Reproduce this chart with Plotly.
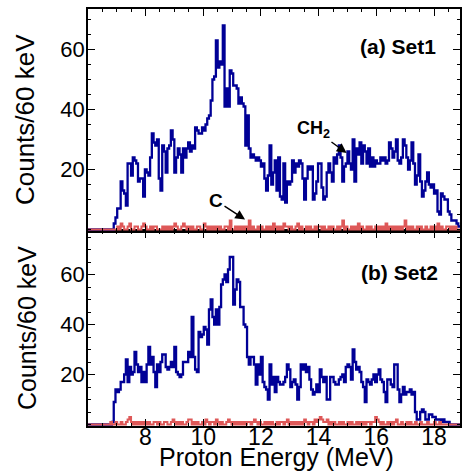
import numpy as np
import plotly.graph_objects as go

# ---------------- data (counts per 60 keV bin, bins start at 6.0 MeV) ----------------
E_START = 6.0
BIN_WIDTH = 0.06  # MeV

set1_ch2 = [
    0, 0, 0, 0, 0, 0, 0, 0, 0, 0, 0, 0, 0, 0, 0,
    2, 4, 7, 7, 16, 13, 12, 8, 22, 22, 18, 24, 23, 22, 16,
    17, 17, 11, 20, 19, 18, 24, 32, 29, 28, 30, 17, 13, 28, 26,
    19, 27, 28, 33, 30, 19, 24, 27, 25, 19, 27, 24, 27, 29, 26,
    28, 27, 34, 33, 32, 32, 34, 33, 35, 37, 38, 43, 50, 51, 63,
    54, 56, 55, 68, 41, 47, 41, 53, 52, 48, 48, 47, 42, 44, 42,
    41, 28, 38, 27, 24, 25, 24, 23, 24, 23, 21, 22, 17, 13, 18,
    28, 15, 19, 23, 13, 24, 11, 10, 22, 9, 16, 15, 16, 23, 19,
    22, 21, 23, 22, 17, 10, 17, 21, 20, 21, 10, 12, 16, 22, 22,
    14, 10, 11, 19, 22, 19, 16, 24, 22, 25, 28, 24, 16, 21, 22,
    26, 22, 20, 30, 16, 27, 25, 29, 22, 28, 26, 22, 27, 21, 24,
    21, 23, 22, 22, 24, 23, 24, 22, 23, 29, 27, 24, 26, 30, 23,
    22, 24, 30, 28, 24, 20, 23, 29, 22, 15, 18, 25, 16, 11, 13,
    16, 19, 15, 14, 15, 12, 13, 6, 5, 12, 11, 10, 10, 6, 5,
    3, 3, 3, 2, 1,
]

set1_c = [
    0, 0, 0, 0, 0, 0, 0, 0, 0, 0, 0, 0, 0, 0, 0,
    0, 0, 1, 0, 2, 1, 0, 0, 1, 2, 0, 0, 1, 1, 0,
    0, 1, 2, 1, 0, 0, 1, 0, 1, 1, 0, 0, 0, 1, 0,
    1, 0, 1, 0, 1, 2, 1, 0, 0, 1, 2, 1, 0, 1, 0,
    1, 0, 0, 1, 1, 0, 0, 2, 1, 0, 1, 0, 1, 0, 1,
    0, 1, 0, 0, 1, 1, 0, 3, 0, 0, 1, 0, 1, 0, 1,
    0, 1, 0, 3, 0, 1, 0, 0, 1, 0, 1, 0, 0, 1, 0,
    1, 0, 2, 0, 1, 0, 1, 0, 2, 1, 1, 0, 1, 0, 0,
    1, 2, 0, 1, 0, 0, 1, 0, 1, 0, 0, 1, 0, 1, 1,
    0, 1, 0, 0, 1, 0, 1, 0, 0, 1, 0, 1, 3, 0, 1,
    0, 0, 1, 0, 1, 0, 2, 0, 1, 0, 0, 1, 0, 1, 0,
    0, 1, 0, 1, 0, 1, 0, 2, 0, 1, 0, 1, 0, 1, 0,
    1, 0, 1, 3, 0, 1, 0, 1, 0, 0, 1, 0, 1, 0, 0,
    1, 0, 0, 1, 0, 1, 0, 2, 0, 1, 0, 0, 1, 1, 0,
    1, 0, 1, 0, 0,
]

set2_ch2 = [
    0, 0, 0, 0, 0, 0, 0, 0, 0, 0, 0, 0, 0, 0, 1,
    9, 14, 13, 14, 17, 17, 20, 26, 17, 23, 20, 21, 29, 24, 21,
    23, 17, 21, 17, 24, 31, 24, 27, 21, 15, 24, 21, 25, 28, 28,
    23, 22, 23, 25, 23, 31, 21, 20, 19, 20, 25, 25, 25, 29, 27,
    43, 27, 22, 21, 37, 35, 36, 39, 38, 32, 46, 50, 43, 40, 46,
    40, 47, 56, 58, 60, 57, 62, 67, 67, 48, 54, 58, 57, 47, 47,
    40, 39, 27, 24, 27, 27, 24, 16, 24, 20, 27, 17, 15, 14, 10,
    24, 16, 19, 13, 19, 17, 16, 16, 17, 19, 24, 22, 15, 17, 18,
    16, 10, 15, 24, 22, 24, 21, 23, 18, 14, 12, 13, 16, 13, 22,
    19, 17, 19, 10, 10, 19, 19, 17, 16, 16, 18, 19, 20, 17, 23,
    24, 23, 18, 30, 25, 22, 23, 21, 17, 15, 9, 18, 17, 16, 18,
    20, 17, 20, 22, 18, 17, 13, 9, 18, 18, 16, 15, 24, 24, 14,
    9, 12, 15, 12, 13, 13, 14, 12, 13, 5, 2, 2, 5, 6, 5,
    2, 2, 4, 4, 3, 3, 2, 2, 2, 1, 2, 1, 1, 1, 0,
    0, 0, 0, 0, 0,
]

set2_c = [
    0, 0, 0, 0, 0, 0, 0, 0, 0, 0, 0, 0, 0, 1, 0,
    0, 1, 0, 0, 1, 0, 0, 1, 2, 3, 1, 0, 1, 0, 1,
    0, 1, 0, 1, 0, 1, 0, 0, 1, 1, 0, 1, 0, 0, 1,
    1, 0, 0, 1, 2, 1, 0, 1, 0, 1, 0, 0, 1, 2, 2,
    0, 1, 0, 1, 0, 0, 1, 0, 2, 1, 0, 1, 1, 0, 2,
    1, 0, 1, 0, 0, 1, 2, 1, 0, 1, 0, 1, 0, 1, 0,
    1, 0, 1, 1, 0, 1, 2, 1, 0, 1, 0, 0, 1, 0, 1,
    0, 1, 0, 0, 1, 0, 1, 1, 0, 1, 2, 0, 1, 0, 1,
    0, 1, 0, 1, 0, 2, 1, 0, 1, 1, 0, 2, 1, 2, 3,
    2, 1, 1, 2, 0, 1, 0, 1, 0, 0, 1, 0, 1, 0, 0,
    1, 0, 1, 0, 0, 1, 0, 1, 0, 1, 0, 1, 1, 0, 1,
    1, 3, 2, 1, 0, 1, 0, 0, 1, 0, 1, 0, 1, 2, 0,
    0, 1, 0, 0, 1, 0, 1, 0, 0, 1, 0, 0, 1, 0, 0,
    0, 1, 0, 0, 0, 1, 0, 0, 1, 0, 0, 0, 0, 0, 0,
    0, 0, 0, 0, 0,
]

x_tick_vals = [8, 10, 12, 14, 16, 18]
y_tick_vals = [20, 40, 60]

for arr in (set1_ch2, set1_c, set2_ch2, set2_c):
    assert len(arr) == len(set1_ch2)

# ---------------- figure ----------------
BLUE = "rgb(0,0,150)"
RED = "rgb(222,88,88)"
FONT = "Liberation Sans, Arial, Helvetica, sans-serif"

n = len(set1_ch2)
edges = E_START + BIN_WIDTH * np.arange(n + 1)


def step(vals):
    return list(vals) + [vals[-1]]


fig = go.Figure()
# top panel (Set1)
fig.add_trace(go.Scatter(x=edges, y=step(set1_ch2), xaxis="x2", yaxis="y2", mode="lines",
                         line=dict(color=BLUE, width=2.3, shape="hv"), showlegend=False))
fig.add_trace(go.Scatter(x=edges, y=step(set1_c), xaxis="x2", yaxis="y4", mode="lines",
                         line=dict(color=RED, width=2, shape="hv"), showlegend=False))
# bottom panel (Set2)
fig.add_trace(go.Scatter(x=edges, y=step(set2_ch2), xaxis="x", yaxis="y", mode="lines",
                         line=dict(color=BLUE, width=2.3, shape="hv"), showlegend=False))
fig.add_trace(go.Scatter(x=edges, y=step(set2_c), xaxis="x", yaxis="y3", mode="lines",
                         line=dict(color=RED, width=2, shape="hv"), showlegend=False))

W, H = 464, 474
L, R, T, B = 40, 2, 9, 48
AX_LEFT = 88          # pixel position of the left frame
pw = W - L - R
ph = H - T - B
x_dom0 = (AX_LEFT - L) / pw
split = (H - B - 231) / ph
label_pos = (85 - L) / pw   # free axis carrying the y tick labels

RANGE_BOTTOM = [-0.6, 77.4]
RANGE_TOP = [-0.5, 73.5]

common_x = dict(range=[6.0, 18.9], tickvals=x_tick_vals, ticks="inside", ticklen=7, tickwidth=1,
                tickcolor="black", showline=True, linecolor="black", linewidth=1.5, mirror="ticks",
                showgrid=False, zeroline=False, ticklabelstandoff=-10,
                minor=dict(tickmode="linear", tick0=0, dtick=0.5, ticks="inside", ticklen=3.5,
                           tickwidth=1, tickcolor="black", showgrid=False),
                tickfont=dict(family=FONT, size=23, color="black"))
common_y = dict(tickvals=y_tick_vals, ticks="inside", ticklen=7, tickwidth=1, tickcolor="black",
                showline=True, linecolor="black", linewidth=1.5, mirror="ticks",
                showgrid=False, zeroline=False, showticklabels=False,
                minor=dict(tickmode="linear", tick0=0, dtick=5, ticks="inside", ticklen=3.5,
                           tickwidth=1, tickcolor="black", showgrid=False))
label_y = dict(tickvals=y_tick_vals, ticks="", showline=False, showgrid=False, zeroline=False,
               anchor="free", position=label_pos, showticklabels=True,
               tickfont=dict(family=FONT, size=22, color="black"))

fig.update_layout(
    width=W, height=H,
    margin=dict(l=L, r=R, t=T, b=B, pad=0),
    paper_bgcolor="white", plot_bgcolor="white",
    xaxis=dict(domain=[x_dom0, 1], anchor="y", **common_x),
    xaxis2=dict(domain=[x_dom0, 1], anchor="y2", matches="x", showticklabels=False, **common_x),
    yaxis=dict(domain=[0, split], anchor="x", range=RANGE_BOTTOM, **common_y),
    yaxis2=dict(domain=[split, 1], anchor="x2", range=RANGE_TOP, **common_y),
    yaxis3=dict(overlaying="y", matches="y", range=RANGE_BOTTOM, **label_y),
    yaxis4=dict(overlaying="y2", matches="y2", range=RANGE_TOP, **label_y),
    font=dict(family=FONT, color="black"),
)


def px_x(p):
    return (p - L) / pw


def px_y(p):
    return (H - B - p) / ph


annotations = [
    dict(text="Counts/60 keV", x=px_x(25), y=px_y(120), xref="paper", yref="paper",
         textangle=-90, showarrow=False, xanchor="center", yanchor="middle",
         font=dict(family=FONT, size=26, color="black")),
    dict(text="Counts/60 keV", x=px_x(27), y=px_y(328), xref="paper", yref="paper",
         textangle=-90, showarrow=False, xanchor="center", yanchor="middle",
         font=dict(family=FONT, size=25, color="black")),
    dict(text="Proton Energy (MeV)", x=px_x(278), y=px_y(457), xref="paper", yref="paper",
         showarrow=False, xanchor="center", yanchor="middle",
         font=dict(family=FONT, size=25, color="black")),
    dict(text="<b>(a) Set1</b>", x=px_x(440), y=px_y(47), xref="paper", yref="paper",
         showarrow=False, xanchor="right", yanchor="middle",
         font=dict(family=FONT, size=21, color="black")),
    dict(text="<b>(b) Set2</b>", x=px_x(442), y=px_y(272), xref="paper", yref="paper",
         showarrow=False, xanchor="right", yanchor="middle",
         font=dict(family=FONT, size=21, color="black")),
    dict(text="<b>CH<sub>2</sub></b>", x=14.97, y=25.5, xref="x2", yref="y2",
         ax=-33, ay=-24, showarrow=True, arrowhead=2, arrowsize=1.3, arrowwidth=1.5,
         arrowcolor="black", font=dict(family=FONT, size=18, color="black")),
    dict(text="<b>C</b>", x=11.45, y=3.3, xref="x2", yref="y2",
         ax=-29, ay=-19, showarrow=True, arrowhead=2, arrowsize=1.3, arrowwidth=1.5,
         arrowcolor="black", font=dict(family=FONT, size=19, color="black")),
]
fig.update_layout(annotations=annotations)

fig.write_html("out.html")
